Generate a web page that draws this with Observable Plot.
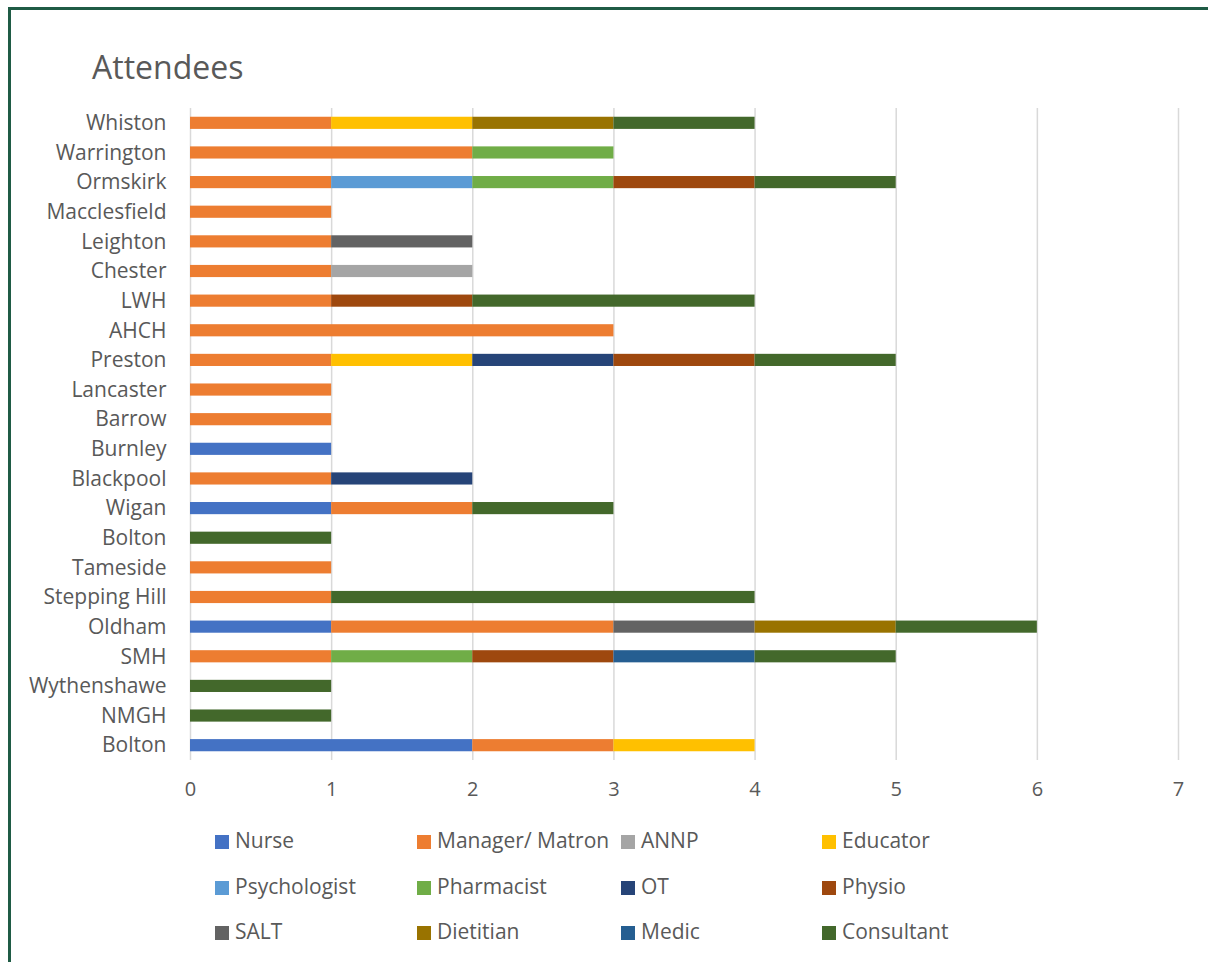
<!DOCTYPE html>
<html>
<head>
<meta charset="utf-8">
<script src="https://cdn.jsdelivr.net/npm/d3@7"></script>
<script src="https://cdn.jsdelivr.net/npm/@observablehq/plot@0.6"></script>
<style>
  html, body { margin: 0; padding: 0; background: #fff; }
  body { width: 1208px; height: 962px; position: relative; overflow: hidden; font-family: "Open Sans", sans-serif; color: #595959; }
  #frame { position: absolute; left: 8px; top: 7px; width: 1300px; height: 1100px; border: 3px solid #1F5B45; box-sizing: border-box; }
  #title { position: absolute; left: 92px; top: 45px; font-size: 32px; color: #595959; }
  #chart { position: absolute; left: 0; top: 0; }
  .leg { position: absolute; font-size: 21px; color: #595959; white-space: nowrap; line-height: 1; }
  .sw { position: absolute; width: 14px; height: 14px; }
</style>
</head>
<body>
<div id="frame"></div>
<div id="chart"></div>
<div id="title">Attendees</div>
<div id="legend"></div>
<script>
// Categories listed bottom to top
const sites = ["Bolton","NMGH","Wythenshawe","SMH","Oldham","Stepping Hill","Tameside","Bolton","Wigan","Blackpool","Burnley","Barrow","Lancaster","Preston","AHCH","LWH","Chester","Leighton","Macclesfield","Ormskirk","Warrington","Whiston"];

const roles = ["Nurse","Manager/ Matron","ANNP","Educator","Psychologist","Pharmacist","OT","Physio","SALT","Dietitian","Medic","Consultant"];
const colors = ["#4472C4","#ED7D31","#A5A5A5","#FFC000","#5B9BD5","#70AD47","#264478","#9E480E","#636363","#997300","#255E91","#43682B"];

//                 Bol NMG Wyt SMH Old StH Tam Bol Wig Bpl Bur Bar Lan Pre AHC LWH Che Lei Mac Orm War Whi
const nurse      = [2,  0,  0,  0,  1,  0,  0,  0,  1,  0,  1,  0,  0,  0,  0,  0,  0,  0,  0,  0,  0,  0];
const manager    = [1,  0,  0,  1,  2,  1,  1,  0,  1,  1,  0,  1,  1,  1,  3,  1,  1,  1,  1,  1,  2,  1];
const annp       = [0,  0,  0,  0,  0,  0,  0,  0,  0,  0,  0,  0,  0,  0,  0,  0,  1,  0,  0,  0,  0,  0];
const educator   = [1,  0,  0,  0,  0,  0,  0,  0,  0,  0,  0,  0,  0,  1,  0,  0,  0,  0,  0,  0,  0,  1];
const psychologist=[0,  0,  0,  0,  0,  0,  0,  0,  0,  0,  0,  0,  0,  0,  0,  0,  0,  0,  0,  1,  0,  0];
const pharmacist = [0,  0,  0,  1,  0,  0,  0,  0,  0,  0,  0,  0,  0,  0,  0,  0,  0,  0,  0,  1,  1,  0];
const ot         = [0,  0,  0,  0,  0,  0,  0,  0,  0,  1,  0,  0,  0,  1,  0,  0,  0,  0,  0,  0,  0,  0];
const physio     = [0,  0,  0,  1,  0,  0,  0,  0,  0,  0,  0,  0,  0,  1,  0,  1,  0,  0,  0,  1,  0,  0];
const salt       = [0,  0,  0,  0,  1,  0,  0,  0,  0,  0,  0,  0,  0,  0,  0,  0,  0,  1,  0,  0,  0,  0];
const dietitian  = [0,  0,  0,  0,  1,  0,  0,  0,  0,  0,  0,  0,  0,  0,  0,  0,  0,  0,  0,  0,  0,  1];
const medic      = [0,  0,  0,  1,  0,  0,  0,  0,  0,  0,  0,  0,  0,  0,  0,  0,  0,  0,  0,  0,  0,  0];
const consultant = [0,  1,  1,  1,  1,  3,  0,  1,  1,  0,  0,  0,  0,  1,  0,  2,  0,  0,  0,  1,  0,  1];

const xTicks = [0,1,2,3,4,5,6,7];

const series = [nurse, manager, annp, educator, psychologist, pharmacist, ot, physio, salt, dietitian, medic, consultant];
const rows = [];
series.forEach((vals, r) => vals.forEach((v, i) => rows.push({site: i, role: roles[r], value: v})));

const yDomain = sites.map((_, i) => i).reverse();

const chart = Plot.plot({
  width: 1208,
  height: 800,
  marginTop: 108,
  marginBottom: 40,
  marginLeft: 190,
  marginRight: 30,
  style: {fontFamily: "'Open Sans', sans-serif", fontSize: "21px", color: "#595959", background: "transparent", overflow: "visible"},
  x: {domain: [0, 7], ticks: xTicks, label: null},
  y: {domain: yDomain, label: null, paddingInner: 0.59, paddingOuter: 0.295, round: false},
  color: {domain: roles, range: colors},
  marks: [
    Plot.ruleX(xTicks, {stroke: "#D9D9D9", strokeWidth: 1.5}),
    Plot.barX(rows, {x: "value", y: "site", fill: "role", z: "role", order: null}),
    Plot.axisX({ticks: xTicks, tickSize: 0, tickPadding: 21, tickFormat: d => String(d), fontSize: 20, fill: "#595959"}),
    Plot.axisY({tickSize: 0, tickPadding: 24, tickFormat: i => sites[i], fontSize: 21, fill: "#595959"})
  ]
});
document.getElementById("chart").appendChild(chart);

// Legend (4 columns x 3 rows)
const legend = document.getElementById("legend");
const colX = [215, 417, 621, 822];
const rowY = [842, 888, 933];
roles.forEach((r, k) => {
  const cx = colX[k % 4], cy = rowY[Math.floor(k / 4)];
  const sw = document.createElement("div");
  sw.className = "sw";
  sw.style.left = cx + "px";
  sw.style.top = (cy - 7) + "px";
  sw.style.background = colors[k];
  legend.appendChild(sw);
  const t = document.createElement("div");
  t.className = "leg";
  t.style.left = (cx + 20) + "px";
  t.style.top = (cy - 12) + "px";
  t.textContent = r;
  legend.appendChild(t);
});
</script>
</body>
</html>
